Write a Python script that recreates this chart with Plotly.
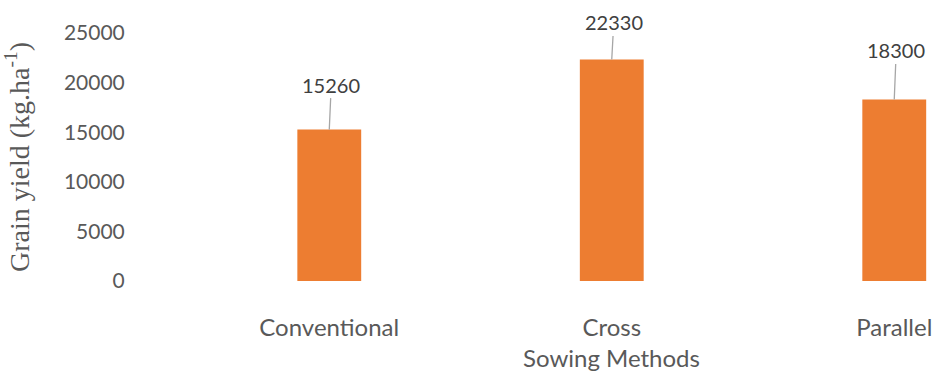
import plotly.graph_objects as go

categories = ["Conventional", "Cross", "Parallel"]
grain_yield = [15260, 22330, 18300]
y_ticks = [0, 5000, 10000, 15000, 20000, 25000]

BAR_COLOR = "#ED7D31"
TEXT_GRAY = "#595959"
LABEL_DY = [-45, -37, -49]

fig = go.Figure()
fig.add_trace(go.Bar(
    x=categories, y=grain_yield, width=0.226,
    marker=dict(color=BAR_COLOR, line=dict(width=0)),
    showlegend=False, hoverinfo="skip",
))

for c, v, dy in zip(categories, grain_yield, LABEL_DY):
    fig.add_annotation(
        x=c, y=v, text=str(v), showarrow=True, arrowhead=0,
        arrowcolor="#A6A6A6", arrowwidth=1.3, ax=2, ay=dy,
        font=dict(family="Lato", size=20, color="#404040"),
        standoff=0, startstandoff=0,
    )

fig.add_annotation(
    x=categories[1], y=0, yref="y", text="Sowing Methods", showarrow=False,
    yshift=-76, font=dict(family="Lato", size=24, color=TEXT_GRAY),
)

fig.update_layout(
    width=932, height=372,
    margin=dict(l=140, r=0, t=33, b=91),
    paper_bgcolor="white", plot_bgcolor="white",
    xaxis=dict(
        type="category", range=[-0.67, 2.123],
        showgrid=False, zeroline=False, showline=False,
        ticks="outside", ticklen=25, tickcolor="rgba(0,0,0,0)",
        tickfont=dict(family="Lato", size=24, color=TEXT_GRAY),
    ),
    yaxis=dict(
        range=[0, 25000], tickvals=y_ticks, tickformat="d",
        showgrid=False, zeroline=False, showline=False,
        ticks="outside", ticklen=10, tickcolor="rgba(0,0,0,0)",
        tickfont=dict(family="Lato", size=21, color=TEXT_GRAY),
        title=dict(text="Grain yield (kg.ha<sup>-1</sup>)",
                   font=dict(family="Liberation Serif", size=28, color=TEXT_GRAY),
                   standoff=32),
    ),
)

fig.write_html("out.html")
